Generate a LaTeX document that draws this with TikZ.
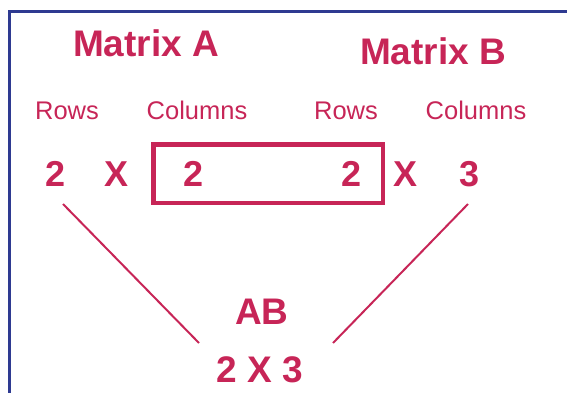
\documentclass[tikz,border=0pt]{standalone}
\usepackage{fontspec}
\setmainfont{Liberation Sans}
\usepackage{xcolor}
\usetikzlibrary{positioning}

\definecolor{crimson}{RGB}{199,37,87}
\definecolor{frameblue}{RGB}{46,58,145}

\begin{document}
\begin{tikzpicture}[
  x=1pt, y=-1pt,
  title/.style={text=crimson, anchor=base, inner sep=0pt,
    font=\bfseries\fontsize{37}{40}\selectfont},
  dimlabel/.style={text=crimson, anchor=base, inner sep=0pt,
    font=\fontsize{25.5}{28}\selectfont},
  num/.style={text=crimson, anchor=base, inner sep=0pt,
    font=\bfseries\fontsize{36}{40}\selectfont},
  inner/.style={draw=crimson, line width=4.5pt, inner sep=0pt,
    minimum width=229.5pt, minimum height=58.5pt},
  link/.style={crimson, line width=2pt},
]
  \useasboundingbox (0,0) rectangle (567,393);

  % Frame (only left and top edges show)
  \draw[frameblue, line width=3pt] (9.5,393) |- (567,12);

  % Matrix titles
  \node[title] (matA) at (146,57) {Matrix A};
  \node[title] (matB) at (433,65) {Matrix B};

  % Rows / Columns labels
  \node[dimlabel] (rowsA) at (67,120) {Rows};
  \node[dimlabel] (colsA) at (197,120) {Columns};
  \node[dimlabel] (rowsB) at (346,120) {Rows};
  \node[dimlabel] (colsB) at (476,120) {Columns};

  % Dimensions
  \node[num] (nrA) at (56,186) {2};
  \node[num] (xA) at (117,186) {X};
  \node[num] (ncA) at (194,186) {2};
  \node[num] (nrB) at (352,186) {2};
  \node[num] (xB) at (405,186) {X};
  \node[num] (ncB) at (470,186) {3};

  % Box round the inner dimensions
  \node[inner] (match) at (268,173.5) {};

  % Result
  \node[title] (prod) at (262,324) {AB};
  \node[title] (dims) at (260,382) {2 X 3};

  % Connectors
  \coordinate (lA) at (63,204);
  \coordinate (lR) at (199,343);
  \coordinate (rB) at (468,204);
  \coordinate (rR) at (333,343);
  \draw[link] (lA) -- (lR);
  \draw[link] (rB) -- (rR);
\end{tikzpicture}
\end{document}
